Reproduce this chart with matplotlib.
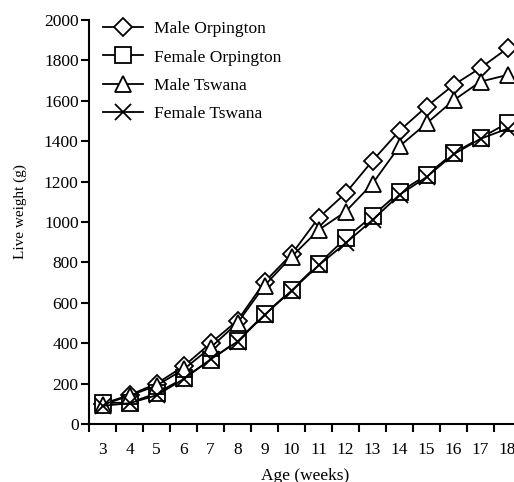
import matplotlib
matplotlib.use("Agg")
import matplotlib.pyplot as plt
import numpy as np

plt.rcParams["font.family"] = ["Liberation Serif", "DejaVu Serif"]

weeks = [3, 4, 5, 6, 7, 8, 9, 10, 11, 12, 13, 14, 15, 16, 17, 18]

male_orpington = [100, 143, 200, 285, 400, 512, 703, 840, 1020, 1142, 1303, 1452, 1571, 1678, 1763, 1860]
female_orpington = [105, 105, 152, 226, 317, 412, 543, 663, 792, 919, 1030, 1148, 1232, 1341, 1416, 1490]
male_tswana = [95, 140, 190, 270, 378, 500, 685, 828, 960, 1051, 1190, 1375, 1488, 1602, 1695, 1728]
female_tswana = [90, 103, 142, 222, 320, 408, 540, 660, 785, 895, 1010, 1135, 1222, 1335, 1412, 1462]

series = [
    ("Male Orpington", male_orpington, "D", 9.5),
    ("Female Orpington", female_orpington, "s", 11.5),
    ("Male Tswana", male_tswana, "^", 11.5),
    ("Female Tswana", female_tswana, "x", 12),
]

fig = plt.figure(figsize=(5.14, 4.82), dpi=100)
ax = fig.add_axes([89 / 514, 58 / 482, 432 / 514, 404 / 482])

x = np.arange(len(weeks))
for name, vals, marker, ms in series:
    ax.plot(x, vals, color="black", lw=1.3, marker=marker, ms=ms,
            mfc="white", mec="black", mew=1.3, label=name)

ax.set_xlim(-0.5, len(weeks) - 0.5)
ax.set_ylim(0, 2000)
ax.set_yticks(np.arange(0, 2001, 200))

# ticks sit on category boundaries, labels in between
ax.set_xticks(np.arange(-0.5, len(weeks), 1.0))
ax.set_xticklabels([])
ax.set_xticks(x, minor=True)
ax.set_xticklabels([str(w) for w in weeks], minor=True)
ax.tick_params(axis="x", which="minor", length=0, pad=13, labelsize=12.5)
ax.tick_params(axis="x", which="major", length=6, width=1.5, direction="out")
ax.tick_params(axis="y", length=6, width=1.5, direction="out", pad=1.5, labelsize=12.5)

for side in ("top", "right"):
    ax.spines[side].set_visible(False)
for side in ("left", "bottom"):
    ax.spines[side].set_linewidth(1.5)

ax.set_xlabel("Age (weeks)", fontsize=12.5, labelpad=7.5)
ax.set_ylabel("Live weight (g)", fontsize=11)
ax.yaxis.set_label_coords(-0.1435, 0.525)

ax.legend(loc="upper left", frameon=False, fontsize=12.5, handlelength=2.3,
          handletextpad=0.63, labelspacing=0.71, borderaxespad=0.0,
          bbox_to_anchor=(0.016, 1.015))

fig.savefig("out.png", dpi=100)
